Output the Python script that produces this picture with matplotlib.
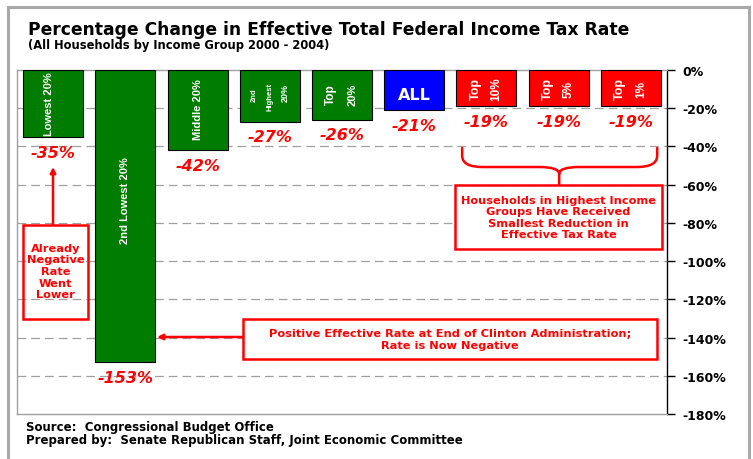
import matplotlib
matplotlib.use("Agg")
import matplotlib.pyplot as plt
from matplotlib.patches import Rectangle, PathPatch
from matplotlib.path import Path
from matplotlib.lines import Line2D
from matplotlib.ticker import FuncFormatter

plt.rcParams['font.family'] = ['DejaVu Sans']

# Data
groups = ["Lowest 20%", "2nd Lowest 20%", "Middle 20%", "2nd Highest 20%",
          "Top 20%", "ALL", "Top 10%", "Top 5%", "Top 1%"]
changes = [-35, -153, -42, -27, -26, -21, -19, -19, -19]
bar_colors = ["#007C00", "#007C00", "#007C00", "#007C00", "#007C00",
              "#0000FF", "#FF0000", "#FF0000", "#FF0000"]
yticks = [0, -20, -40, -60, -80, -100, -120, -140, -160, -180]

RED = "#FF0000"
NARROW = ['Liberation Sans', 'DejaVu Sans']

fig = plt.figure(figsize=(7.53, 4.60), dpi=100)
W, H = 753, 460

def fx(px):
    return px / W

def fy(py):
    return 1 - py / H

# Outer frame of the slide
frame = dict(color="#A8A8A8", lw=2.2)
fig.add_artist(Line2D([fx(8), fx(8)], [fy(8), fy(470)], **frame))
fig.add_artist(Line2D([fx(8), fx(749)], [fy(8), fy(8)], **frame))
fig.add_artist(Line2D([fx(749), fx(749)], [fy(8), fy(470)], **frame))

ax = fig.add_axes([fx(17), fy(415), fx(667) - fx(17), fy(71) - fy(415)])
ax.set_xlim(-0.5, len(groups) - 0.5)
ax.set_ylim(-180, 0)

x = list(range(len(groups)))
ax.bar(x, changes, width=0.83, color=bar_colors, edgecolor="black",
       linewidth=0.8, zorder=3, align="center")

# Gridlines
for yv in yticks[1:-1]:
    ax.axhline(yv, color="#A0A0A0", lw=0.9, ls=(0, (7, 4)), zorder=1)

# Spines and right-hand axis
for s in ("left", "top", "bottom"):
    ax.spines[s].set_color("#A0A0A0")
    ax.spines[s].set_linewidth(1.0)
ax.spines["right"].set_color("black")
ax.spines["right"].set_linewidth(1.0)
ax.yaxis.tick_right()
ax.set_yticks(yticks)
ax.yaxis.set_major_formatter(FuncFormatter(lambda v, p: f"{int(v)}%"))
ax.tick_params(axis="y", direction="out", length=6, width=1, color="black",
               labelsize=9, pad=5)
for lab in ax.get_yticklabels():
    lab.set_fontweight("bold")
ax.set_xticks([])

# Value labels beneath each bar
for xi, v in zip(x, changes):
    ax.annotate(f"{v}%", (xi, v), xytext=(0, -11), textcoords="offset points",
                ha="center", va="center", color=RED, fontsize=11.5,
                fontweight="bold", fontstyle="italic", zorder=5)

# Labels inside the bars
wt = dict(color="white", fontweight="bold", rotation=90, ha="center",
          va="center", zorder=5, family=NARROW)
ax.text(0 - 0.05, -17.5, "Lowest 20%", fontsize=8, **wt)
ax.text(1, -68, "2nd Lowest 20%", fontsize=8, **wt)
ax.text(2, -20, "Middle 20%", fontsize=8, **wt)
ax.text(3 - 0.21, -12.5, "2nd", fontsize=5.5, **wt)
ax.text(3, -13.5, "Highest", fontsize=5.5, **wt)
ax.text(3 + 0.22, -11.5, "20%", fontsize=6.5, **wt)
ax.text(4 - 0.15, -12.5, "Top", fontsize=8.5, **wt)
ax.text(4 + 0.15, -12.5, "20%", fontsize=8, **wt)
ax.text(5, -12.8, "ALL", color="white", fontweight="bold", fontsize=11.5,
        ha="center", va="center", zorder=5)
for xi, pct in zip([6, 7, 8], ["10%", "5%", "1%"]):
    ax.text(xi - 0.15, -9.5, "Top", fontsize=9, **wt)
    ax.text(xi + 0.14, -9.5, pct, fontsize=8.5, **wt)

# Helpers converting canvas pixels to data units
def px2x(px):
    return (px - 17) / 72.2 - 0.5

def py2y(py):
    return -(py - 71) / (344 / 180)

ann = dict(color=RED, fontweight="bold", ha="center", va="center", zorder=7)
arrow = dict(arrowstyle="-|>", color=RED, lw=1.8, mutation_scale=8,
             shrinkA=0, shrinkB=0)

# Left box with arrow up to the lowest group
ax.add_patch(Rectangle((px2x(23), py2y(320)), px2x(88) - px2x(23),
                       py2y(226) - py2y(320), fill=False, ec=RED, lw=1.8,
                       zorder=6))
ax.text((px2x(23) + px2x(88)) / 2, py2y(272),
        "Already\nNegative\nRate\nWent\nLower", fontsize=8.2,
        linespacing=1.2, **ann)
ax.annotate("", xy=(px2x(53), py2y(168)), xytext=(px2x(53), py2y(226)),
            arrowprops=arrow, zorder=6)

# Bottom box with arrow to the 2nd lowest group
ax.add_patch(Rectangle((px2x(243), py2y(360)), px2x(657) - px2x(243),
                       py2y(320) - py2y(360), fc="white", ec=RED, lw=1.8,
                       zorder=6))
ax.text((px2x(243) + px2x(657)) / 2, py2y(340),
        "Positive Effective Rate at End of Clinton Administration;\nRate is Now Negative",
        fontsize=8.2, linespacing=1.25, **ann)
ax.annotate("", xy=(px2x(157), py2y(338)), xytext=(px2x(243), py2y(338)),
            arrowprops=arrow, zorder=6)

# Brace spanning the top income groups
xl, xr, xm = px2x(462), px2x(657), px2x(559)
y0, y1, y2 = py2y(149), py2y(168), py2y(186)
dx = 0.28
dy = (y0 - y1) * 0.6
verts = [
    (xl, y0), (xl, y1 + dy), (xl, y1), (xl + dx, y1),
    (xm - dx, y1), (xm, y1), (xm, y1 - dy * 0.6), (xm, y2),
    (xm, y1 - dy * 0.6), (xm, y1), (xm + dx, y1),
    (xr - dx, y1), (xr, y1), (xr, y1 + dy), (xr, y0),
]
codes = [Path.MOVETO, Path.LINETO, Path.CURVE3, Path.CURVE3,
         Path.LINETO, Path.CURVE3, Path.CURVE3, Path.LINETO,
         Path.MOVETO, Path.CURVE3, Path.CURVE3,
         Path.LINETO, Path.CURVE3, Path.CURVE3, Path.LINETO]
ax.add_patch(PathPatch(Path(verts, codes), fill=False, ec=RED, lw=1.8,
                       zorder=6, capstyle="round"))

ax.add_patch(Rectangle((px2x(455), py2y(250)), px2x(662) - px2x(455),
                       py2y(186) - py2y(250), fc="white", ec=RED, lw=1.8,
                       zorder=6))
ax.text((px2x(455) + px2x(662)) / 2, py2y(218),
        "Households in Highest Income\nGroups Have Received\nSmallest Reduction in\nEffective Tax Rate",
        fontsize=8.2, linespacing=1.2, **ann)

# Titles and footer
fig.text(fx(28), fy(30), "Percentage Change in Effective Total Federal Income Tax Rate",
         fontsize=12.3, fontweight="bold", ha="left", va="center")
fig.text(fx(28), fy(45), "(All Households by Income Group 2000 - 2004)",
         fontsize=8.3, fontweight="bold", ha="left", va="center")
fig.text(fx(26), fy(428), "Source:  Congressional Budget Office",
         fontsize=8.5, fontweight="bold", ha="left", va="center")
fig.text(fx(26), fy(441), "Prepared by:  Senate Republican Staff, Joint Economic Committee",
         fontsize=8.5, fontweight="bold", ha="left", va="center")

fig.savefig("out.png", dpi=100)
